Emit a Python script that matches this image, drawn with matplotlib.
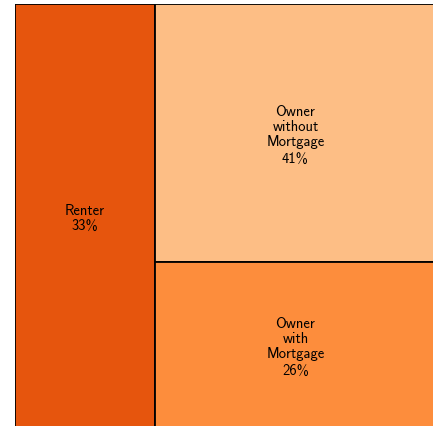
import matplotlib
matplotlib.use('Agg')
import matplotlib.pyplot as plt
from matplotlib.patches import Rectangle

# Datos del treemap
labels = ['Renter', 'Owner\nwithout\nMortgage', 'Owner\nwith\nMortgage']
shares = [33, 41, 26]
colors = ['#e6550d', '#fdbe85', '#fd8d3c']

plt.rcParams['font.family'] = ['cmss10', 'DejaVu Sans']
plt.rcParams['axes.unicode_minus'] = False

W, H = 433, 427
fig = plt.figure(figsize=(W / 100, H / 100), dpi=100)
# El area del treemap se sale un poco por la derecha y por abajo
ax = fig.add_axes([15 / W, -2 / H, 421 / W, 424 / H])
ax.set_xlim(0, 1)
ax.set_ylim(0, 1)
ax.axis('off')

total = sum(shares)
# Columna izquierda: Renter, columna derecha: los dos tipos de Owner
w0 = shares[0] / total * 418 / 421 + 2 / 421
rest = shares[1] + shares[2]
h_bot = shares[2] / rest * 422 / 424 + 2 / 424
rects = [
    (0, 0, w0, 1),
    (w0, h_bot, 1 - w0, 1 - h_bot),
    (w0, 0, 1 - w0, h_bot),
]

step = 15 / 424  # separacion de lineas
for (x, y, w, h), lab, s, c in zip(rects, labels, shares, colors):
    ax.add_patch(Rectangle((x, y), w, h, facecolor=c, edgecolor='black', linewidth=1.3))
    lines = lab.split('\n') + [f'{s}%']
    n = len(lines)
    gap = 17 / 424 if n > 2 else step
    span = (n - 2) * step + gap
    cx = x + w / 2
    cy = y + h / 2 + span / 2
    for i, t in enumerate(lines):
        ax.text(cx, cy, t, ha='center', va='center_baseline', fontsize=10.5)
        cy -= step if i < n - 2 else gap

fig.savefig('out.png', dpi=100)
